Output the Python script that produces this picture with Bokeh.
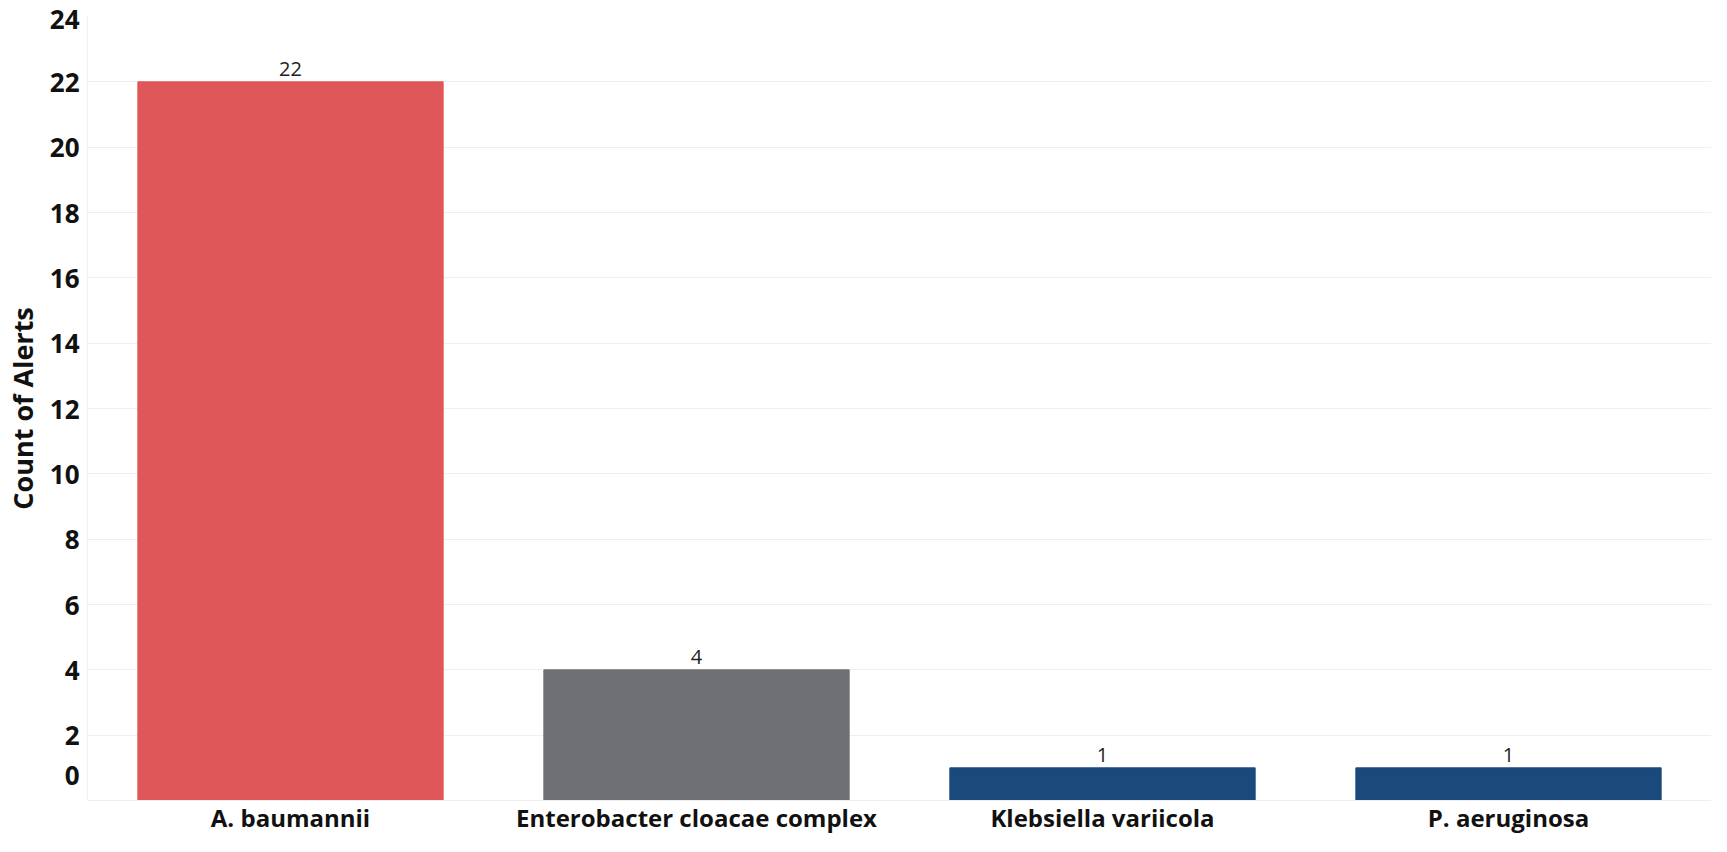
from bokeh.plotting import figure
from bokeh.models import ColumnDataSource, Range1d, FactorRange, FixedTicker, LabelSet
from bokeh.core.properties import value
from bokeh.embed import file_html
from bokeh.resources import INLINE

organisms = ["A. baumannii", "Enterobacter cloacae complex", "Klebsiella variicola", "P. aeruginosa"]
alert_counts = [22, 4, 1, 1]
bar_colors = ["#E05759", "#6F7074", "#1A4A7C", "#1A4A7C"]
y_ticks = [0, 2, 4, 6, 8, 10, 12, 14, 16, 18, 20, 22, 24]

src = ColumnDataSource(dict(x=organisms, y=alert_counts, color=bar_colors,
                            label=[str(v) for v in alert_counts]))

p = figure(x_range=FactorRange(*organisms, range_padding=0), y_range=Range1d(0, 24),
           width=1711, height=836, output_backend="svg", toolbar_location=None,
           min_border_left=81, min_border_right=0, min_border_top=16, min_border_bottom=0)
p.outline_line_color = None

p.vbar(x="x", top="y", width=0.752, color="color", source=src)

labels = LabelSet(x="x", y="y", text="label", source=src, text_align="center",
                  text_baseline="bottom", y_offset=6, text_font=value("Open Sans"),
                  text_font_size="20px", text_color="#222222")
p.add_layout(labels)

p.yaxis.ticker = FixedTicker(ticks=y_ticks)
p.yaxis.major_label_overrides = {y_ticks[0]: "0\n"}
p.yaxis.axis_label = "Count of Alerts"
p.yaxis.axis_label_text_font = "Open Sans"
p.yaxis.axis_label_text_font_style = "bold"
p.yaxis.axis_label_text_font_size = "27px"
p.yaxis.axis_label_text_color = "#111111"
p.yaxis.axis_label_standoff = 6
p.yaxis.major_label_text_font = "Open Sans"
p.yaxis.major_label_text_font_style = "bold"
p.yaxis.major_label_text_font_size = "26px"
p.yaxis.major_label_text_color = "#111111"
p.yaxis.major_tick_line_color = None
p.yaxis.minor_tick_line_color = None
p.yaxis.major_tick_out = 0
p.yaxis.major_tick_in = 0
p.yaxis.axis_line_color = "#F0F0F0"
p.yaxis.major_label_standoff = 8

p.xaxis.major_label_text_font = "Open Sans"
p.xaxis.major_label_text_font_style = "bold"
p.xaxis.major_label_text_font_size = "24px"
p.xaxis.major_label_text_color = "#111111"
p.xaxis.major_tick_line_color = None
p.xaxis.major_tick_out = 0
p.xaxis.major_tick_in = 0
p.xaxis.axis_label_standoff = 0
p.xaxis.axis_line_color = "#EEEEEE"
p.xaxis.major_label_standoff = 0

p.xgrid.grid_line_color = None
p.ygrid.grid_line_color = "#EFEFEF"
p.ygrid.grid_line_width = 1

open("out.html", "w").write(file_html(p, INLINE))
